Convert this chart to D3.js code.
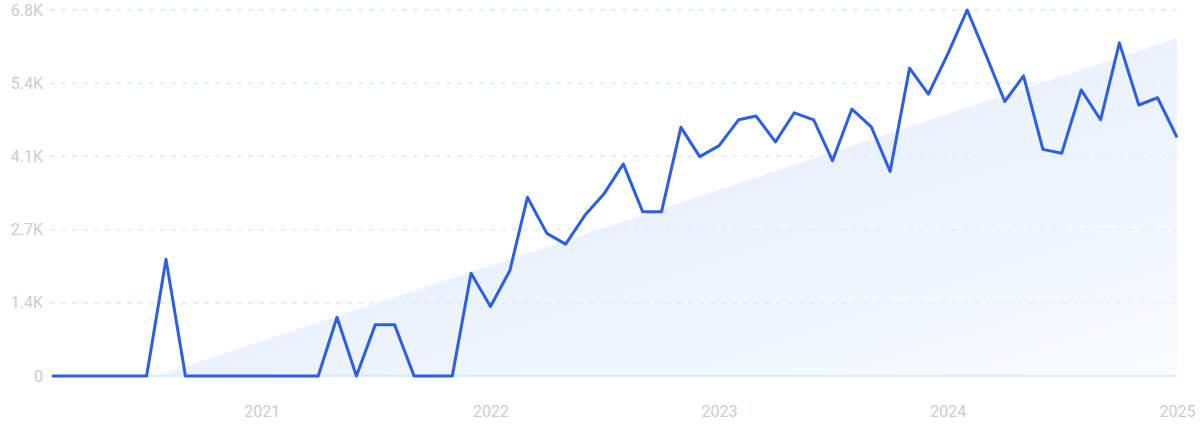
<!DOCTYPE html>
<html>
<head>
<meta charset="utf-8">
<script src="https://cdn.jsdelivr.net/npm/d3@7"></script>
<style>
  html, body { margin: 0; padding: 0; background: #fff; }
  svg { display: block; font-family: Roboto, "Noto Sans", sans-serif; }
</style>
</head>
<body>
<svg id="chart" width="1200" height="432"></svg>
<script>
// ---- data ----
const startMonth = "2020-02";   // first monthly point
const values = [
  0, 0, 0, 0, 0, 0, 2170, 0, 0, 0,
  0, 0, 0, 0, 0, 1090, 0, 950, 950, 0,
  0, 0, 1910, 1290, 1960, 3320, 2650, 2450, 2990, 3380,
  3940, 3050, 3050, 4620, 4075, 4280, 4760, 4830, 4350, 4890,
  4760, 4000, 4960, 4630, 3800, 5720, 5235, 5980, 6800, 5995,
  5100, 5575, 4210, 4140, 5315, 4760, 6190, 5035, 5170, 4435
];
const yTickValues = [0, 1360, 2720, 4080, 5440, 6800];
const yTickLabels = ["0", "1.4K", "2.7K", "4.1K", "5.4K", "6.8K"];
const xTickYears = [2021, 2022, 2023, 2024, 2025];

// ---- build ----
const parse = d3.timeParse("%Y-%m");
const d0 = parse(startMonth);
const data = values.map((v, i) => ({ date: d3.timeMonth.offset(d0, i), value: v }));

const svg = d3.select("#chart");
const x = d3.scaleTime()
  .domain([data[0].date, data[data.length - 1].date])
  .range([52, 1177]);
const y = d3.scaleLinear().domain([0, 6800]).range([376, 10]);

// gradient
const defs = svg.append("defs");
const grad = defs.append("linearGradient")
  .attr("id", "trendFill")
  .attr("x1", "0%").attr("y1", "0%").attr("x2", "100%").attr("y2", "100%");
grad.append("stop").attr("offset", "0%").attr("stop-color", "#dce9fb");
grad.append("stop").attr("offset", "100%").attr("stop-color", "#f9fbff");

// gridlines
svg.append("g").selectAll("line")
  .data(yTickValues.slice(1))
  .join("line")
  .attr("x1", 50).attr("x2", 1177)
  .attr("y1", d => y(d)).attr("y2", d => y(d))
  .attr("stroke", "#dde7f5")
  .attr("stroke-width", 1)
  .attr("stroke-dasharray", "5,6");

// linear regression trend (on time)
const ts = data.map(d => +d.date);
const mt = d3.mean(ts), mv = d3.mean(values);
let num = 0, den = 0;
data.forEach(d => { num += (+d.date - mt) * (d.value - mv); den += (+d.date - mt) ** 2; });
const slope = num / den, intercept = mv - slope * mt;
const tZero = Math.max(ts[0], -intercept / slope);
const tEnd = ts[ts.length - 1];
const trendPts = [
  { date: new Date(tZero), value: Math.max(0, intercept + slope * tZero) },
  { date: new Date(tEnd), value: intercept + slope * tEnd }
];
svg.append("path")
  .datum(trendPts)
  .attr("fill", "url(#trendFill)")
  .attr("d", d3.area().x(d => x(d.date)).y0(y(0)).y1(d => y(d.value)));

// gridlines tinted over area
svg.append("g").selectAll("line")
  .data(yTickValues.slice(1))
  .join("line")
  .attr("x1", 50).attr("x2", 1177)
  .attr("y1", d => y(d)).attr("y2", d => y(d))
  .attr("stroke", "#c6e5fb")
  .attr("stroke-opacity", 0.55)
  .attr("stroke-width", 1)
  .attr("stroke-dasharray", "5,6");

// baseline
svg.append("line")
  .attr("x1", 50).attr("x2", 1177)
  .attr("y1", y(0)).attr("y2", y(0))
  .attr("stroke", "#cde8fb")
  .attr("stroke-width", 1.3);

// y axis labels
const yAxis = d3.axisLeft(y).tickValues(yTickValues)
  .tickFormat((d, i) => yTickLabels[i]).tickSize(0).tickPadding(0);
const gy = svg.append("g").attr("transform", "translate(43,0)").call(yAxis);
gy.select(".domain").remove();
gy.selectAll("text")
  .attr("fill", "#cbcbd3")
  .style("font-size", "16px")
  .style("font-family", "Roboto, 'Noto Sans', sans-serif");

// x axis labels
const xAxis = d3.axisBottom(x)
  .tickValues(xTickYears.map(yr => new Date(yr, 0, 1)))
  .tickFormat(d3.timeFormat("%Y")).tickSize(0).tickPadding(0);
const gx = svg.append("g").attr("transform", "translate(0,406)").call(xAxis);
gx.select(".domain").remove();
gx.selectAll("text")
  .attr("fill", "#cbcbd3")
  .style("font-size", "16px")
  .style("font-family", "Roboto, 'Noto Sans', sans-serif");

// main line
svg.append("path")
  .datum(data)
  .attr("fill", "none")
  .attr("stroke", "#2d5fe3")
  .attr("stroke-width", 3)
  .attr("stroke-linejoin", "round")
  .attr("d", d3.line().x(d => x(d.date)).y(d => y(d.value)));
</script>
</body>
</html>
